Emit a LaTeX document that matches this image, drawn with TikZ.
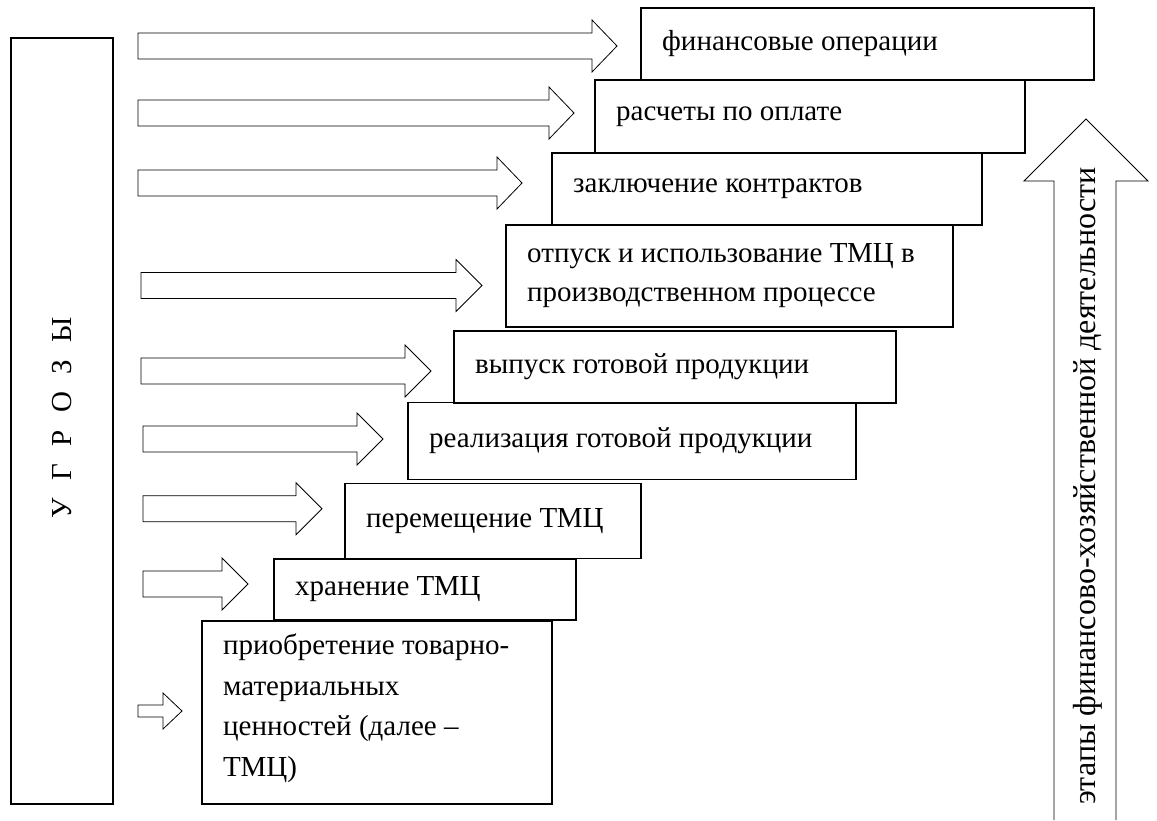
\documentclass[tikz,border=0pt]{standalone}
\usepackage{fontspec}
\setmainfont{Liberation Serif}
\newcommand\threatarrow[6]{% left end, head base, tip, centre y, shaft half-height, head half-height
  \draw[blockarrow] ({#1},{#4-#5}) -- ({#2},{#4-#5}) -- ({#2},{#4-#6}) -- ({#3},{#4})
    -- ({#2},{#4+#6}) -- ({#2},{#4+#5}) -- ({#1},{#4+#5}) -- cycle;}
\begin{document}
\begin{tikzpicture}[x=1pt,y=-1pt,
  stage/.style={draw, line width=1.5pt, anchor=north west, inner sep=0pt},
  caption/.style={anchor=west, inner sep=0pt, align=left,
    font=\fontsize{29}{39.5}\selectfont},
  blockarrow/.style={draw, line width=0.8pt, line join=miter},
]
\useasboundingbox (0,0) rectangle (1157,820);

% threats column
\node[stage, minimum width=102pt, minimum height=766pt] (threats) at (10,37) {};
\node[rotate=90, font=\fontsize{29}{30}\selectfont] (threatsLabel) at ([yshift=3pt]threats.center)
  {У\hspace{0.6em}Г\hspace{0.6em}Р\hspace{0.6em}О\hspace{0.6em}З\hspace{0.6em}Ы};

% stages of the financial and economic activity
\node[stage, minimum width=453pt, minimum height=72pt]  (s1) at (640,7) {};
\node[stage, minimum width=430pt, minimum height=73pt]  (s2) at (594,79) {};
\node[stage, minimum width=430pt, minimum height=72pt]  (s3) at (551,152) {};
\node[stage, minimum width=447pt, minimum height=102pt] (s4) at (505,224) {};
\node[stage, minimum width=442pt, minimum height=72pt]  (s5) at (453,330) {};
\node[stage, minimum width=448pt, minimum height=77pt]  (s6) at (407,401.5) {};
\node[stage, minimum width=296pt, minimum height=75pt]  (s7) at (344,482.5) {};
\node[stage, minimum width=302pt, minimum height=61pt]  (s8) at (273,558) {};
\node[stage, minimum width=350pt, minimum height=183pt] (s9) at (201,620) {};

\node[caption] (t1) at ([xshift=22pt]s1.west) {финансовые операции};
\node[caption] (t2) at ([xshift=22pt]s2.west) {расчеты по оплате};
\node[caption] (t3) at ([xshift=22pt]s3.west) {заключение контрактов};
\node[caption] (t4) at ([xshift=22pt]s4.west) {отпуск и использование ТМЦ в\\производственном процессе};
\node[caption] (t5) at ([xshift=22pt]s5.west) {выпуск готовой продукции};
\node[caption] (t6) at ([xshift=22pt]s6.west) {реализация готовой продукции};
\node[caption] (t7) at ([xshift=22pt]s7.west) {перемещение ТМЦ};
\node[caption] (t8) at ([xshift=22pt]s8.west) {хранение ТМЦ};
\node[caption, font=\fontsize{29}{40.7}\selectfont] (t9) at ([xshift=22pt,yshift=4pt]s9.west)
  {приобретение товарно-\\материальных\\ценностей (далее –\\ТМЦ)};

% threat arrows
\threatarrow{138}{592}{617}{46}{13}{26}
\threatarrow{138}{549}{574}{113}{13}{26}
\threatarrow{138}{497}{522}{183}{13}{26}
\threatarrow{141}{456}{482}{285.5}{13}{26}
\threatarrow{141}{405}{431}{371}{13}{26}
\threatarrow{143}{357}{383}{439}{13}{26}
\threatarrow{143}{296}{322}{508.7}{13}{26}
\threatarrow{143}{222}{248}{584}{13}{26}
\threatarrow{138}{163}{182}{711}{6}{18}

% upward arrow of the activity stages
\coordinate (upL) at (1054,820);
\coordinate (upR) at (1116,820);
\draw[blockarrow] (upL) -- (1054,181) -- (1024,181) -- (1086,119) -- (1148,181)
  -- (1116,181) -- (upR);
\node[rotate=90, font=\fontsize{32}{33}\selectfont] (stagesLabel) at (1088,486)
  {этапы финансово-хозяйственной деятельности};
\end{tikzpicture}
\end{document}
